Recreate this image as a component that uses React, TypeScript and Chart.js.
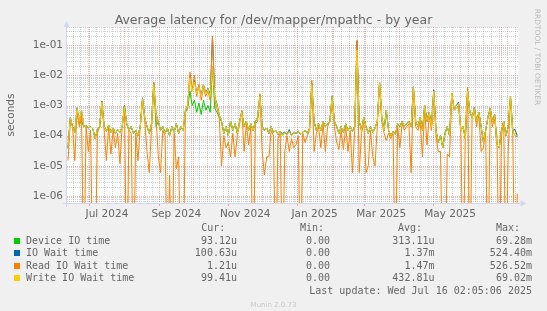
import React, { useEffect, useRef } from 'react';
import { Chart, registerables } from 'chart.js';

Chart.register(...registerables);

// ---- time axis: day offsets from 2024-06-12 00:00, one sample every 2 days ----
const START_UTC = Date.UTC(2024, 5, 12);
const DAY_STEP = 2;
const X_MIN_DAY = -0.9;
const X_MAX_DAY = 399.1;

// ---- series values (seconds); 0 = zero latency (drawn off the bottom, like rrdtool) ----
const deviceIOTime = [
  4e-5, 3.5e-4, 2e-4, 1.3e-4, 6e-4, 2.5e-4, 3e-4, 2e-4, 2.2e-4, 1.8e-4,
  2e-4, 1.7e-4, 8e-5, 1.6e-4, 2e-4, 1.3e-3, 2e-4, 1.4e-4, 2.2e-4, 1.3e-4,
  1.8e-4, 1.2e-4, 1.6e-4, 1.3e-4, 2e-4, 9e-4, 2.5e-4, 1.5e-4, 2e-4, 1.2e-4,
  1.5e-4, 1e-4, 2e-4, 1.7e-3, 4e-4, 2e-4, 1.2e-4, 2.5e-4, 5e-3, 2e-4,
  3e-4, 1.5e-4, 2e-4, 1.2e-4, 1.8e-4, 1e-4, 2e-4, 1.3e-4, 2.5e-4, 1.2e-4,
  2e-4, 1.5e-4, 6e-4, 8e-4, 3e-3, 1e-3, 1.5e-3, 6e-4, 1.2e-3, 5e-4,
  1.5e-3, 7e-4, 1e-3, 6e-4, 2e-2, 8e-4, 6e-4, 4e-4, 3e-4, 1.2e-4,
  2e-4, 1e-4, 3e-4, 1.5e-4, 2.5e-4, 1.2e-4, 3e-4, 6e-4, 2e-4, 3e-4,
  1.5e-4, 2.5e-4, 1.5e-4, 3e-4, 4e-4, 2e-3, 2e-4, 1.5e-4, 1.8e-4, 1.2e-4,
  2e-4, 1.3e-4, 1.5e-4, 1.1e-4, 1.4e-4, 1e-4, 1.3e-4, 1.1e-4, 1.4e-4, 1e-4,
  1.3e-4, 1.2e-4, 1.4e-4, 1.1e-4, 1.3e-4, 1.5e-4, 1.2e-4, 1.8e-4, 5e-3, 3e-4,
  1.5e-4, 2.5e-4, 1.5e-4, 3e-4, 2e-4, 2.5e-4, 3e-4, 2e-3, 3e-4, 2e-4,
  1.2e-4, 2e-4, 1.3e-4, 2.5e-4, 1.5e-4, 2e-4, 1.4e-4, 2e-4, 6.9e-2, 3e-4,
  1.5e-4, 4e-4, 2e-4, 1.2e-4, 2e-4, 1.3e-4, 1.8e-4, 3e-4, 6e-3, 4e-4,
  1.5e-4, 7e-4, 1.5e-4, 1e-4, 1.4e-4, 1.1e-4, 2.5e-4, 2e-4, 3e-4, 2e-4,
  2.5e-4, 3e-4, 2e-4, 4e-3, 3e-4, 2e-4, 4e-4, 1.5e-4, 1e-3, 3e-4,
  6e-4, 2e-4, 3e-3, 1.5e-4, 6e-5, 1e-4, 4e-5, 1.2e-4, 2e-4, 1e-4,
  2.5e-3, 8e-4, 1e-3, 1.2e-3, 1.5e-4, 2e-4, 8e-5, 3e-3, 6e-4, 4e-4,
  8e-4, 3e-4, 6e-4, 2e-4, 6e-5, 1.5e-4, 4e-4, 8e-4, 3e-4, 5e-4,
  5e-5, 4e-5, 1.5e-4, 3e-4, 1e-4, 2e-4, 2e-3, 1.5e-4, 1e-4, 9.312e-5,
];

const ioWaitTime = [
  4e-5, 4e-4, 2.1e-4, 1.3e-4, 8.5e-4, 3e-4, 7e-4, 2e-4, 2.2e-4, 1.8e-4,
  2e-4, 1.7e-4, 8e-5, 1.6e-4, 2e-4, 1.4e-3, 2e-4, 1.4e-4, 2.2e-4, 1.3e-4,
  1.8e-4, 1.2e-4, 1.6e-4, 1.3e-4, 2e-4, 1e-3, 2.5e-4, 1.5e-4, 2e-4, 1.2e-4,
  1.5e-4, 1e-4, 2e-4, 1.8e-3, 4e-4, 2e-4, 1.2e-4, 2.5e-4, 5.5e-3, 5e-4,
  3e-4, 1.5e-4, 2e-4, 1.2e-4, 1.8e-4, 1e-4, 2e-4, 1.3e-4, 2.5e-4, 1.2e-4,
  2e-4, 1.5e-4, 7e-4, 1e-3, 1e-2, 3.2e-3, 7e-3, 2.7e-3, 4.2e-3, 2.2e-3,
  5e-3, 2.7e-3, 3.7e-3, 2.2e-3, 2e-1, 2e-3, 1.1e-3, 5e-4, 3e-4, 1.2e-4,
  2e-4, 1e-4, 3e-4, 1.5e-4, 2.5e-4, 1.2e-4, 3e-4, 6.5e-4, 2e-4, 3e-4,
  1.5e-4, 2.5e-4, 1.5e-4, 3e-4, 4e-4, 2.2e-3, 2e-4, 1.5e-4, 1.8e-4, 1.2e-4,
  2e-4, 1.3e-4, 1.5e-4, 1.1e-4, 1.4e-4, 1.2e-4, 1.3e-4, 1.1e-4, 1.6e-4, 1e-4,
  1.3e-4, 1.2e-4, 1.4e-4, 1.1e-4, 1.3e-4, 1.5e-4, 1.2e-4, 1.8e-4, 5.5e-3, 3e-4,
  1.5e-4, 2.5e-4, 1.5e-4, 3e-4, 2e-4, 2.5e-4, 3e-4, 2.1e-3, 3e-4, 2e-4,
  1.2e-4, 2e-4, 1.3e-4, 2.5e-4, 1.5e-4, 2e-4, 1.4e-4, 2e-4, 1.4e-1, 3e-4,
  1.5e-4, 4e-4, 2e-4, 1.2e-4, 2e-4, 1.3e-4, 1.8e-4, 3e-4, 6e-3, 4e-4,
  1.5e-4, 7e-4, 1.5e-4, 1e-4, 1.4e-4, 1.1e-4, 2.5e-4, 2e-4, 3e-4, 2e-4,
  2.5e-4, 3e-4, 2e-4, 4.2e-3, 3e-4, 2e-4, 4e-4, 1.5e-4, 1e-3, 3e-4,
  6e-4, 2e-4, 3.3e-3, 1.5e-4, 6e-5, 1e-4, 4e-5, 1.2e-4, 2e-4, 1e-4,
  2.5e-3, 8e-4, 1e-3, 1.3e-3, 1.5e-4, 2e-4, 8e-5, 3.2e-3, 6e-4, 4e-4,
  8.5e-4, 3e-4, 6e-4, 2e-4, 6e-5, 1.5e-4, 4e-4, 8e-4, 3e-4, 5e-4,
  5e-5, 4e-5, 1.5e-4, 3e-4, 1e-4, 2e-4, 2e-3, 1.5e-4, 1.6e-4, 1.0063e-4,
];

const readIOWaitTime = [
  1.5e-5, 3e-4, 2e-4, 1.5e-5, 7e-4, 2e-4, 5e-4, 0, 2e-4, 3e-5,
  1.5e-4, 0, 0, 1.2e-4, 2e-4, 1.3e-3, 1.5e-4, 1.5e-5, 2e-4, 2.5e-5,
  1.5e-4, 4e-5, 1.2e-4, 1.2e-5, 2e-4, 1e-3, 0, 1.5e-4, 1.2e-4, 0,
  1.2e-4, 1.5e-5, 2e-4, 1.5e-3, 3e-4, 3e-5, 6e-6, 2e-4, 6e-3, 4e-4,
  2e-5, 6e-6, 1.5e-4, 1e-4, 0, 5e-6, 0, 1.2e-4, 8e-6, 2e-5,
  0, 0, 6e-4, 1e-3, 1.3e-2, 3e-3, 1e-2, 2e-3, 5e-3, 1.5e-3,
  4e-3, 2e-3, 3e-3, 1.5e-3, 2e-1, 1.5e-3, 8e-4, 4e-4, 1e-5, 1e-4,
  4e-5, 6e-5, 2e-5, 1.2e-4, 2e-5, 1e-4, 2.5e-4, 7e-4, 3e-5, 2.5e-4,
  5e-5, 2e-4, 0, 2.5e-4, 3e-4, 2.5e-3, 3e-5, 5e-6, 2e-5, 2e-5,
  1.5e-4, 1e-4, 0, 8e-5, 1.2e-4, 0, 3e-5, 1e-4, 3e-5, 8e-5,
  4e-5, 5e-5, 1e-4, 0, 1.2e-4, 6e-5, 1e-4, 1.5e-4, 7e-3, 3e-5,
  1.2e-4, 2e-4, 4e-5, 2.5e-4, 3e-5, 2e-4, 3e-4, 1.5e-3, 2e-4, 6e-5,
  3.5e-5, 1.5e-4, 3.5e-5, 2e-4, 3e-5, 1.5e-4, 6e-6, 1.5e-4, 1.46e-1, 6e-6,
  1.2e-4, 3e-4, 6e-6, 1e-5, 1.5e-4, 2e-5, 1e-5, 2e-4, 6e-3, 3e-4,
  1.2e-4, 7e-5, 1.2e-4, 8e-5, 1.2e-4, 0, 2e-4, 4e-5, 2.5e-4, 1.5e-4,
  2e-4, 2.5e-4, 6e-6, 4e-3, 2e-4, 1.5e-4, 3e-4, 2e-5, 8e-4, 5e-5,
  5e-4, 1.5e-4, 2.5e-3, 1e-4, 3e-5, 3e-5, 0, 0, 2.5e-5, 2e-5,
  2.5e-3, 7e-4, 8e-4, 1e-3, 1.5e-4, 0, 1.5e-4, 4e-3, 0, 4e-4,
  7e-4, 2e-4, 5e-4, 3e-5, 4e-5, 1.5e-4, 0, 7e-4, 2e-4, 4e-4,
  1e-4, 0, 1e-4, 3e-4, 0, 3e-5, 2e-3, 1e-4, 0, 1.21e-6,
];

const writeIOWaitTime = [
  4e-5, 4e-4, 2e-4, 1.3e-4, 8e-4, 3e-4, 7e-4, 2e-4, 2.2e-4, 1.8e-4,
  2e-4, 1.7e-4, 8e-5, 1.6e-4, 2e-4, 1.3e-3, 2e-4, 1.4e-4, 2.2e-4, 1.3e-4,
  1.8e-4, 1.2e-4, 1.6e-4, 1.3e-4, 2e-4, 9e-4, 2.5e-4, 1.5e-4, 2e-4, 1.2e-4,
  1.5e-4, 1e-4, 2e-4, 1.7e-3, 4e-4, 2e-4, 1.2e-4, 2.5e-4, 5e-3, 5e-4,
  3e-4, 1.5e-4, 2e-4, 1.2e-4, 1.8e-4, 1e-4, 2e-4, 1.3e-4, 2.5e-4, 1.2e-4,
  2e-4, 1.5e-4, 7e-4, 1e-3, 8e-3, 3e-3, 6e-3, 2.5e-3, 4e-3, 2e-3,
  5e-3, 2.5e-3, 3.5e-3, 2e-3, 2e-2, 2e-3, 1e-3, 5e-4, 3e-4, 1.2e-4,
  2e-4, 1e-4, 3e-4, 1.5e-4, 2.5e-4, 1.2e-4, 3e-4, 6e-4, 2e-4, 3e-4,
  1.5e-4, 2.5e-4, 1.5e-4, 3e-4, 4e-4, 2e-3, 2e-4, 1.5e-4, 1.8e-4, 1.2e-4,
  2e-4, 1.3e-4, 1.5e-4, 1.1e-4, 1.4e-4, 1e-4, 1.3e-4, 1.1e-4, 1.4e-4, 1e-4,
  1.3e-4, 1.2e-4, 1.4e-4, 1.1e-4, 1.3e-4, 1.5e-4, 1.2e-4, 1.8e-4, 5e-3, 3e-4,
  1.5e-4, 2.5e-4, 1.5e-4, 3e-4, 2e-4, 2.5e-4, 3e-4, 2e-3, 3e-4, 2e-4,
  1.2e-4, 2e-4, 1.3e-4, 2.5e-4, 1.5e-4, 2e-4, 1.4e-4, 2e-4, 6.9e-2, 3e-4,
  1.5e-4, 4e-4, 2e-4, 1.2e-4, 2e-4, 1.3e-4, 1.8e-4, 3e-4, 6e-3, 4e-4,
  1.5e-4, 7e-4, 1.5e-4, 1e-4, 1.4e-4, 1.1e-4, 2.5e-4, 2e-4, 3e-4, 2e-4,
  2.5e-4, 3e-4, 2e-4, 4e-3, 3e-4, 2e-4, 4e-4, 1.5e-4, 1e-3, 3e-4,
  6e-4, 2e-4, 3e-3, 1.5e-4, 6e-5, 1e-4, 4e-5, 1.2e-4, 2e-4, 1e-4,
  2.5e-3, 8e-4, 1e-3, 1.2e-3, 1.5e-4, 2e-4, 8e-5, 3e-3, 6e-4, 4e-4,
  8e-4, 3e-4, 6e-4, 2e-4, 6e-5, 1.5e-4, 4e-4, 8e-4, 3e-4, 5e-4,
  5e-5, 4e-5, 1.5e-4, 3e-4, 1e-4, 2e-4, 2e-3, 1.5e-4, 1e-4, 9.941e-5,
];

// ---- axis ticks ----
const xTickLabels = ['Jul 2024', 'Sep 2024', 'Nov 2024', 'Jan 2025', 'Mar 2025', 'May 2025'];
const xTickMonths: [number, number][] = [[2024, 6], [2024, 8], [2024, 10], [2025, 0], [2025, 2], [2025, 4]];
const yTickValues = [1e-6, 1e-5, 1e-4, 1e-3, 1e-2, 1e-1];
const yTickLabels = ['1e-06', '1e-05', '1e-04', '1e-03', '1e-02', '1e-01'];
const Y_MIN = 5.9e-7;
const Y_MAX = 0.4;
const Y_ZERO = 1e-9; // where zero values are placed (below the visible range)

// ---- legend table ----
const seriesNames = ['Device IO time', 'IO Wait time', 'Read IO Wait time', 'Write IO Wait time'];
const seriesColors = ['#00CC00', '#0066B3', '#FF8000', '#FFCC00'];
const curValues = ['93.12u', '100.63u', '1.21u', '99.41u'];
const minValues = ['0.00', '0.00', '0.00', '0.00'];
const avgValues = ['313.11u', '1.37m', '1.47m', '432.81u'];
const maxValues = ['69.28m', '524.40m', '526.52m', '69.02m'];
const lastUpdate = 'Last update: Wed Jul 16 02:05:06 2025';

const seriesList = [deviceIOTime, ioWaitTime, readIOWaitTime, writeIOWaitTime];

const dayOf = (y: number, m: number, d: number) => (Date.UTC(y, m, d) - START_UTC) / 86400000;

const AXIS_COLOR = '#CFD6F8';
const MINOR_GRID = 'rgba(143,143,143,0.4)';
const MAJOR_GRID = 'rgba(222,79,79,0.45)';
const FONT_COLOR = '#666666';

const rrdPlugin = {
  id: 'rrdLook',
  beforeDraw(chart: any) {
    const { ctx, chartArea: a } = chart;
    ctx.save();
    ctx.fillStyle = '#FFFFFF';
    ctx.fillRect(a.left, a.top, a.right - a.left, a.bottom - a.top);
    ctx.restore();
  },
  beforeDatasetsDraw(chart: any) {
    const { ctx, chartArea: a, scales } = chart;
    const x = scales.x;
    const y = scales.y;
    ctx.save();
    ctx.lineWidth = 1;
    ctx.setLineDash([1, 1]);
    const hline = (py: number, color: string) => {
      const yy = Math.round(py) + 0.5;
      ctx.strokeStyle = color;
      ctx.beginPath();
      ctx.moveTo(a.left, yy);
      ctx.lineTo(a.right, yy);
      ctx.stroke();
    };
    const vline = (px: number, color: string) => {
      const xx = Math.round(px) + 0.5;
      ctx.strokeStyle = color;
      ctx.beginPath();
      ctx.moveTo(xx, a.top);
      ctx.lineTo(xx, a.bottom);
      ctx.stroke();
    };
    for (let e = -7; e <= 0; e++) {
      for (let m = 2; m <= 9; m++) {
        const v = m * Math.pow(10, e);
        if (v < Y_MIN || v > Y_MAX) continue;
        hline(y.getPixelForValue(v), MINOR_GRID);
      }
    }
    for (let d = 0; d <= X_MAX_DAY; d++) {
      const dt = new Date(START_UTC + d * 86400000);
      if (dt.getUTCDay() === 0 && dt.getUTCDate() !== 1) vline(x.getPixelForValue(d), MINOR_GRID);
    }
    for (const v of yTickValues) hline(y.getPixelForValue(v), MAJOR_GRID);
    for (let k = 0; k < 14; k++) {
      const d = dayOf(2024, 6 + k, 1);
      if (d > X_MIN_DAY && d < X_MAX_DAY) vline(x.getPixelForValue(d), MAJOR_GRID);
    }
    ctx.restore();
  },
  afterDatasetsDraw(chart: any) {
    const { ctx, chartArea: a, scales } = chart;
    const x = scales.x;
    ctx.save();
    ctx.setLineDash([]);
    ctx.lineWidth = 1;
    ctx.strokeStyle = MAJOR_GRID;
    for (const [yy, mm] of xTickMonths) {
      const xx = Math.round(x.getPixelForValue(dayOf(yy, mm, 1))) + 0.5;
      ctx.beginPath();
      ctx.moveTo(xx, a.bottom);
      ctx.lineTo(xx, a.bottom + 3);
      ctx.stroke();
    }
    ctx.strokeStyle = AXIS_COLOR;
    ctx.fillStyle = AXIS_COLOR;
    const ax = Math.round(a.left) - 0.5;
    const ay = Math.round(a.bottom) + 0.5;
    ctx.beginPath();
    ctx.moveTo(a.left - 4, ay);
    ctx.lineTo(a.right + 2, ay);
    ctx.moveTo(ax, a.bottom + 4);
    ctx.lineTo(ax, a.top);
    ctx.stroke();
    ctx.beginPath();
    ctx.moveTo(a.right + 2, ay - 3);
    ctx.lineTo(a.right + 8, ay);
    ctx.lineTo(a.right + 2, ay + 3);
    ctx.closePath();
    ctx.fill();
    ctx.beginPath();
    ctx.moveTo(ax - 3, a.top);
    ctx.lineTo(ax, a.top - 6);
    ctx.lineTo(ax + 3, a.top);
    ctx.closePath();
    ctx.fill();
    ctx.restore();
  },
};

export default function App() {
  const ref = useRef<HTMLCanvasElement>(null);

  useEffect(() => {
    if (!ref.current) return;
    const order = [4, 3, 2, 1];
    const datasets = seriesList.map((arr, si) => ({
      label: seriesNames[si],
      data: arr.map((v, i) => ({ x: i * DAY_STEP, y: v > 0 ? v : Y_ZERO })),
      borderColor: seriesColors[si],
      backgroundColor: seriesColors[si],
      borderWidth: 1,
      pointRadius: 0,
      tension: 0,
      fill: false,
      order: order[si],
      clip: 0,
    }));
    const chart = new Chart(ref.current, {
      type: 'line',
      data: { datasets },
      plugins: [rrdPlugin],
      options: {
        animation: false,
        responsive: false,
        maintainAspectRatio: false,
        layout: { padding: { left: 0, right: 28.5, top: 27, bottom: 88 } },
        plugins: {
          legend: { display: false },
          tooltip: { enabled: false },
          title: { display: false },
        },
        scales: {
          x: {
            type: 'linear',
            min: X_MIN_DAY,
            max: X_MAX_DAY,
            grid: { display: false, drawTicks: false },
            border: { display: false },
            afterFit: (s: any) => { s.height = 20; },
            afterBuildTicks: (s: any) => {
              s.ticks = xTickMonths.map(([yy, mm]) => ({
                value: (dayOf(yy, mm, 1) + dayOf(yy, mm + 1, 1)) / 2,
              }));
            },
            ticks: {
              autoSkip: false,
              maxRotation: 0,
              minRotation: 0,
              padding: 4.5,
              color: FONT_COLOR,
              font: { family: 'DejaVu Sans', size: 10.5 },
              callback: (_v: any, i: number) => xTickLabels[i],
            },
          },
          y: {
            type: 'logarithmic',
            min: Y_MIN,
            max: Y_MAX,
            grid: { display: false, drawTicks: false },
            border: { display: false },
            afterFit: (s: any) => { s.width = 67; },
            afterBuildTicks: (s: any) => {
              s.ticks = yTickValues.map((v) => ({ value: v }));
            },
            title: {
              display: true,
              text: 'seconds',
              color: FONT_COLOR,
              font: { family: 'DejaVu Sans', size: 10.5 },
              padding: { top: 5, bottom: 0 },
            },
            ticks: {
              autoSkip: false,
              padding: 4,
              color: FONT_COLOR,
              font: { family: 'DejaVu Sans', size: 10.5 },
              callback: (_v: any, i: number) => yTickLabels[i],
            },
          },
        },
      },
    } as any);
    return () => chart.destroy();
  }, []);

  const mono: React.CSSProperties = {
    position: 'absolute',
    fontFamily: '"DejaVu Sans Mono", monospace',
    fontSize: 10,
    lineHeight: '12px',
    color: FONT_COLOR,
    whiteSpace: 'pre',
  };
  const rowTops = [234.7, 247.3, 259.8, 272.4];
  const colRights = [237, 336, 434.5, 532];
  const headRights = [225.4, 324, 422, 520];
  const heads = ['Cur:', 'Min:', 'Avg:', 'Max:'];
  const cols = [curValues, minValues, avgValues, maxValues];

  return (
    <div style={{ position: 'absolute', left: 0, top: 0, width: 547, height: 311, background: '#F0F0F0', overflow: 'hidden' }}>
      <canvas ref={ref} width={547} height={311} style={{ position: 'absolute', left: 0, top: 0, width: 547, height: 311 }} />
      <div style={{ position: 'absolute', left: 0, top: 12, width: 547, textAlign: 'center', fontFamily: '"DejaVu Sans"', fontSize: 12.5, lineHeight: '15px', color: FONT_COLOR, whiteSpace: 'pre' }}>
        Average latency for /dev/mapper/mpathc - by year
      </div>
      <div style={{ position: 'absolute', left: 537 - 50, top: 52, width: 100, height: 10, transform: 'rotate(90deg)', transformOrigin: '50px 5px', textAlign: 'center', fontFamily: '"DejaVu Sans"', fontSize: 7.5, lineHeight: '10px', color: '#BBBBBB', whiteSpace: 'pre' }}>
        RRDTOOL / TOBI OETIKER
      </div>
      {heads.map((h, i) => (
        <div key={h} style={{ ...mono, top: 221.9, right: 547 - headRights[i] }}>{h}</div>
      ))}
      {seriesNames.map((name, r) => (
        <React.Fragment key={name}>
          <div style={{ position: 'absolute', left: 14, top: rowTops[r] + 3, width: 6, height: 6, background: seriesColors[r] }} />
          <div style={{ ...mono, left: 26, top: rowTops[r] }}>{name}</div>
          {cols.map((c, ci) => (
            <div key={ci} style={{ ...mono, top: rowTops[r], right: 547 - colRights[ci] + (ci === 1 ? 6 : 0) }}>{c[r]}</div>
          ))}
        </React.Fragment>
      ))}
      <div style={{ ...mono, top: 284.9, right: 547 - 532 }}>{lastUpdate}</div>
      <div style={{ position: 'absolute', left: 0, width: 547, top: 299.5, textAlign: 'center', fontFamily: '"DejaVu Sans"', fontSize: 7, lineHeight: '10px', color: '#C8C8C8' }}>
        Munin 2.0.73
      </div>
    </div>
  );
}
